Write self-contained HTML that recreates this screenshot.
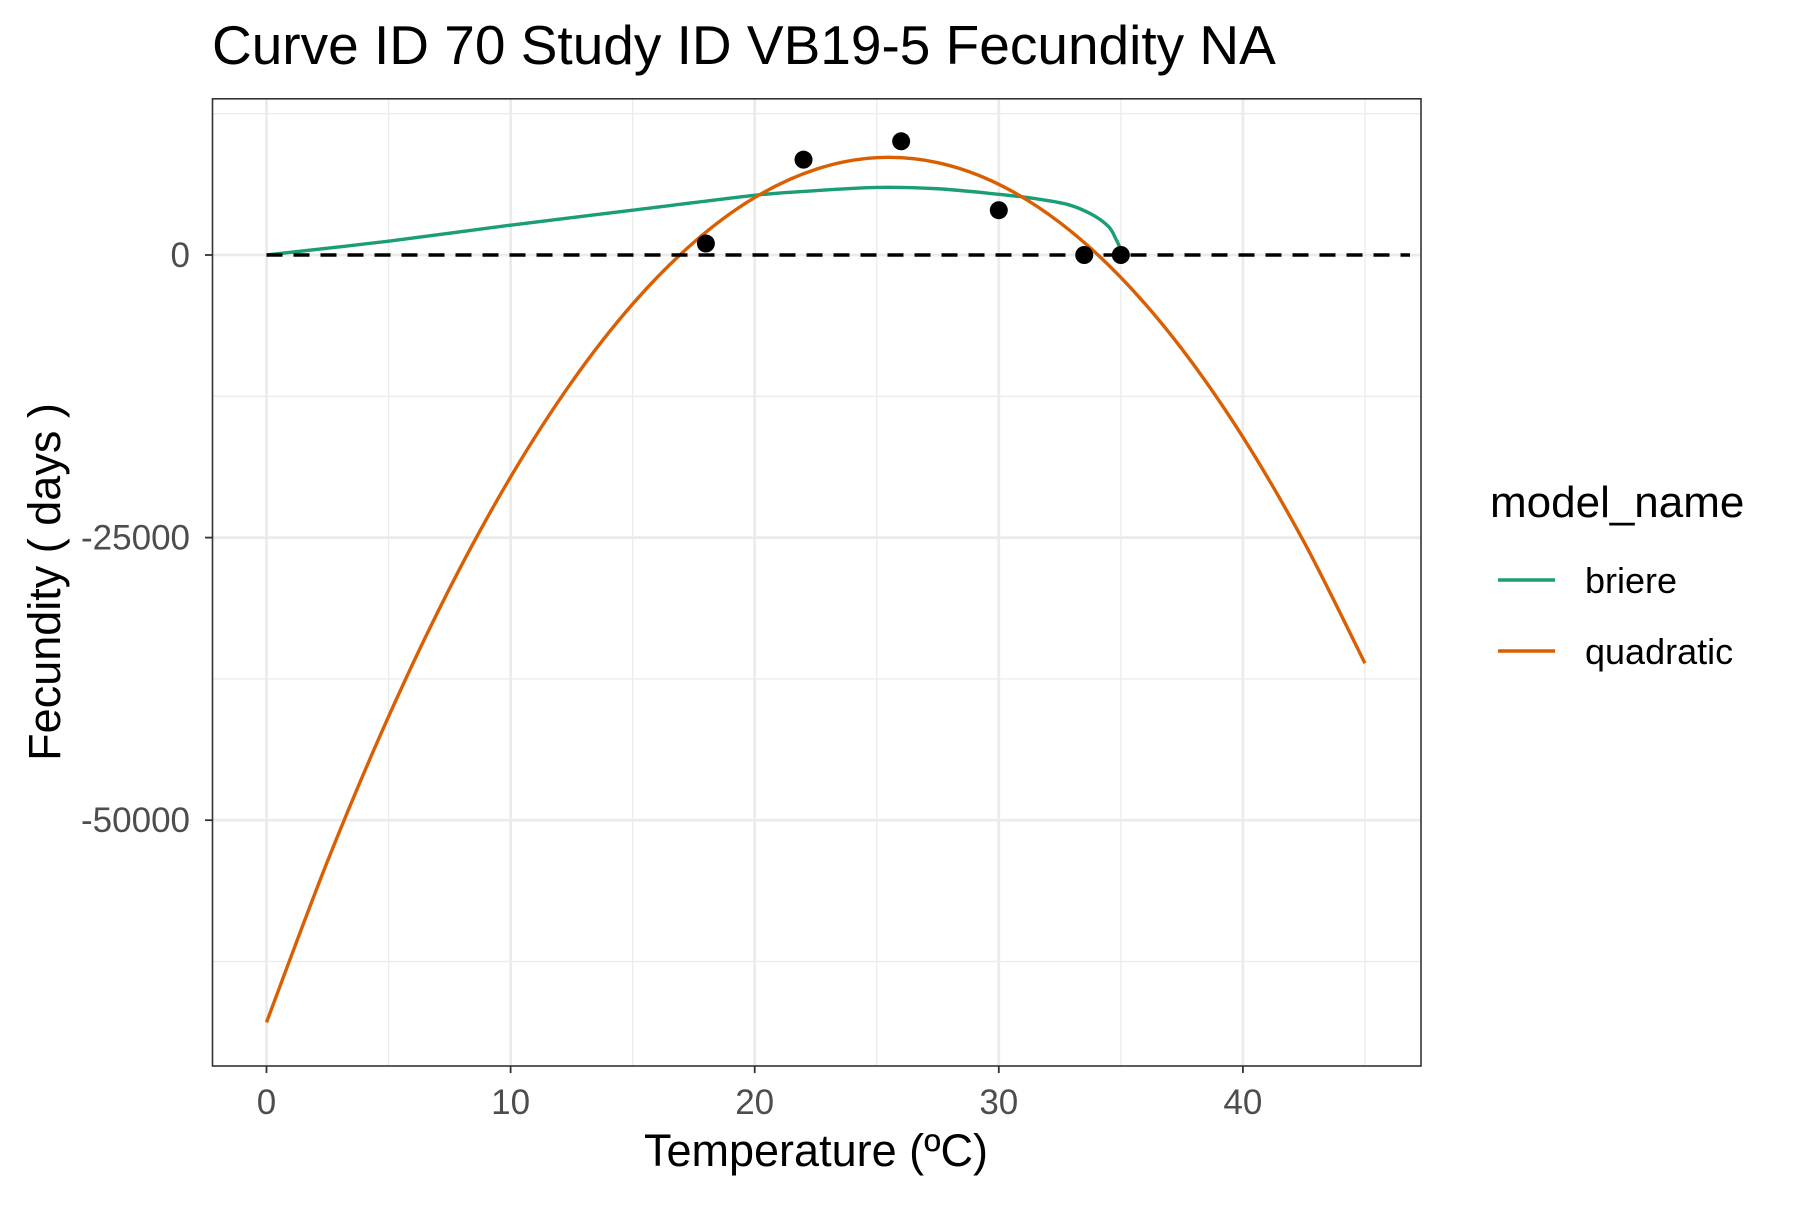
<!DOCTYPE html>
<html><head><meta charset="utf-8"><style>
body{margin:0;background:#fff}
svg text{font-family:"Liberation Sans",sans-serif}
</style></head><body>
<svg id="chart" width="1800" height="1200" viewBox="0 0 1800 1200">
<text x="212" y="64" font-size="55" fill="#000">Curve ID 70 Study ID VB19-5 Fecundity NA</text>
<rect x="212.5" y="98.8" width="1208.5" height="967.2" fill="#fff"/>
<g id="grid"></g>
<g id="marks"></g>
<rect x="212.5" y="98.8" width="1208.5" height="967.2" fill="none" stroke="#333" stroke-width="1.6"/>
<g id="axes"></g>
<text x="816" y="1166" font-size="45" text-anchor="middle">Temperature (ºC)</text>
<text transform="translate(60,582) rotate(-90)" font-size="45" text-anchor="middle">Fecundity ( days )</text>
<text x="1490" y="517" font-size="44">model_name</text>
<line x1="1498" x2="1555" y1="580" y2="580" stroke="#1B9E77" stroke-width="3.5"/>
<text x="1585" y="593" font-size="36">briere</text>
<line x1="1498" x2="1555" y1="651" y2="651" stroke="#D95F02" stroke-width="3.5"/>
<text x="1585" y="664" font-size="36">quadratic</text>
</svg>
<script>
const xTicks=[0,10,20,30,40];
const xMinor=[5,15,25,35,45];
const yTicks=[0,-25000,-50000];
const yTickLabels=["0","-25000","-50000"];
const yMinor=[12500,-12500,-37500,-62500];
const quadX=[0,2.5,5,7.5,10,12.5,15,17.5,20,22.5,25,27.5,30,32.5,35,37.5,40,42.5,45];
const quadY=[-67886,-53625,-40835,-29498,-19639,-11253,-4339,1105,5078,7579,8609,8167,6255,2871,-1985,-8311,-16109,-25377,-36118];
const briX=[0,5,10,15,20,22.5,25,27.5,30,31.4,32.8,33.8,34.5,34.8,34.95,35];
const briY=[0,1220,2642,3963,5285,5690,5980,5860,5370,5015,4485,3600,2500,1400,700,0];
const ptX=[18,22,26,30,33.5,35];
const ptY=[1016,8435,10061,3963,0,0];
const X=v=>266.5+v*24.41;
const Y=v=>255-v*282.6/25000;
const NS="http://www.w3.org/2000/svg";
function mk(tag,attrs,parent){const e=document.createElementNS(NS,tag);for(const k in attrs)e.setAttribute(k,attrs[k]);parent.appendChild(e);return e;}
const grid=document.getElementById('grid'),marks=document.getElementById('marks'),axes=document.getElementById('axes');
const PL=212.5,PR=1421,PT=98.8,PB=1066;
yMinor.forEach(v=>{const l=mk('line',{x1:PL,x2:PR,y1:Y(v),y2:Y(v),stroke:'#ebebeb','stroke-width':1.3},grid);

});
xMinor.forEach(v=>{const l=mk('line',{x1:X(v),x2:X(v),y1:PT,y2:PB,stroke:'#ebebeb','stroke-width':1.3},grid);

});
yTicks.forEach((v,i)=>{const l=mk('line',{x1:PL,x2:PR,y1:Y(v),y2:Y(v),stroke:'#ebebeb','stroke-width':2.7},grid);


const t=mk('line',{x1:205,x2:PL,y1:Y(v),y2:Y(v),stroke:'#333','stroke-width':1.8},axes);


const tx=mk('text',{x:190,y:Y(v)+12,'font-size':35,fill:'#4d4d4d','text-anchor':'end'},axes);tx.textContent=yTickLabels[i];

});
xTicks.forEach(v=>{const l=mk('line',{x1:X(v),x2:X(v),y1:PT,y2:PB,stroke:'#ebebeb','stroke-width':2.7},grid);


const t=mk('line',{x1:X(v),x2:X(v),y1:PB,y2:PB+7,stroke:'#333','stroke-width':1.8},axes);


const tx=mk('text',{x:X(v),y:1114,'font-size':35,fill:'#4d4d4d','text-anchor':'middle'},axes);tx.textContent=String(v);

});
function smooth(xs,ys){let d='M'+X(xs[0])+','+Y(ys[0]);for(let i=0;i<xs.length-1;i++){const x0=X(xs[Math.max(i-1,0)]),y0=Y(ys[Math.max(i-1,0)]),x1=X(xs[i]),y1=Y(ys[i]),x2=X(xs[i+1]),y2=Y(ys[i+1]),x3=X(xs[Math.min(i+2,xs.length-1)]),y3=Y(ys[Math.min(i+2,xs.length-1)]);
d+=`C${x1+(x2-x0)/6},${y1+(y2-y0)/6} ${x2-(x3-x1)/6},${y2-(y3-y1)/6} ${x2},${y2}`;}return d;}
const b=mk('path',{d:smooth(briX,briY),fill:'none',stroke:'#1B9E77','stroke-width':3.4},marks);


const q=mk('path',{d:smooth(quadX,quadY),fill:'none',stroke:'#D95F02','stroke-width':3.4},marks);


const z=mk('line',{x1:X(0),x2:1410,y1:Y(0),y2:Y(0),stroke:'#000','stroke-width':3.4,'stroke-dasharray':'16,11'},marks);


ptX.forEach((v,i)=>{const c=mk('circle',{cx:X(v),cy:Y(ptY[i]),r:9,fill:'#000'},marks);

});
</script>
</body></html>
